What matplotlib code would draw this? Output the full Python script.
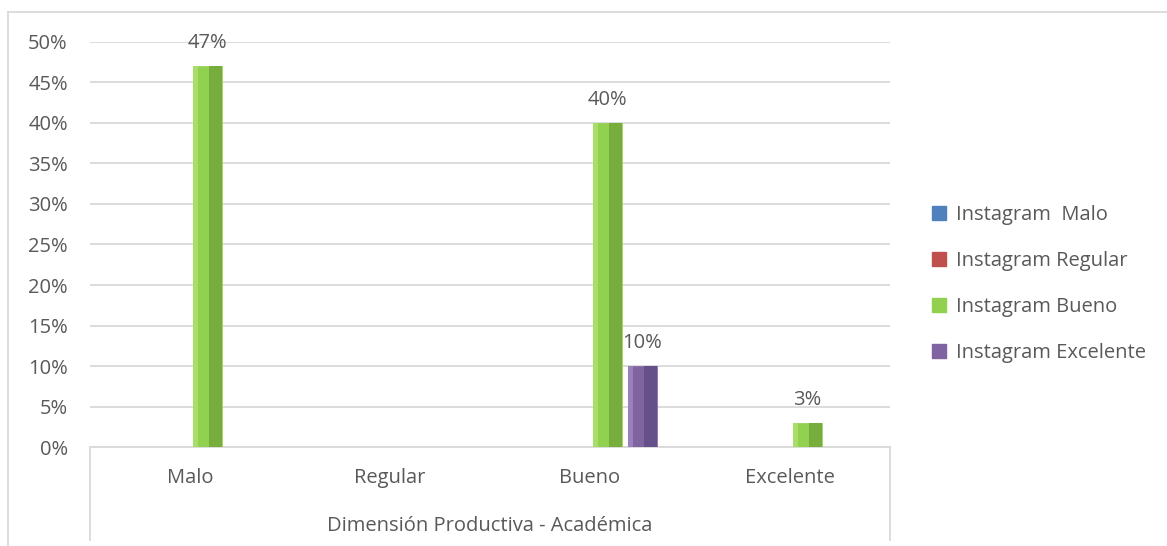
import numpy as np
import matplotlib.pyplot as plt
from matplotlib.patches import Rectangle
from matplotlib.lines import Line2D

plt.rcParams['font.family'] = ['Open Sans', 'DejaVu Sans']

categories = ['Malo', 'Regular', 'Bueno', 'Excelente']
series = ['Instagram  Malo', 'Instagram Regular', 'Instagram Bueno', 'Instagram Excelente']
malo = [0, 0, 0, 0]
regular = [0, 0, 0, 0]
bueno = [0.47, 0, 0.40, 0.03]
excelente = [0, 0, 0.10, 0]
group_label = 'Dimensión Productiva - Académica'

colors = ['#4F81BD', '#C0504D', '#92D050', '#8064A2']
darks = ['#3B6496', '#9A3C3A', '#76AD3C', '#65508A']
lights = ['#7FA6D6', '#D98381', '#A6DE68', '#9A80BC']
text_col = '#595959'
grid_col = '#D9D9D9'
fs = 14.5

fig = plt.figure(figsize=(11.67, 5.46), dpi=100)
ax = fig.add_axes([0.0771, 0.1813, 0.6855, 0.7418])

x = np.arange(len(categories))
offsets = [-0.2625, -0.0875, 0.0875, 0.2625]
w = 0.145
for vals, off, c, d, l, name in zip([malo, regular, bueno, excelente], offsets,
                                     colors, darks, lights, series):
    vals = np.array(vals, dtype=float)
    xs = x + off
    ax.bar(xs, vals, w, color=c, edgecolor=c, linewidth=0.5, label=name, zorder=3)
    m = vals > 0
    # bevel look: darker right part, lighter left edge
    ax.bar(xs[m] + w * 0.27, vals[m], w * 0.46, color=d, linewidth=0, zorder=4)
    ax.bar(xs[m] - w * 0.41, vals[m], w * 0.18, color=l, linewidth=0, zorder=4)
    for xi, v in zip(xs[m], vals[m]):
        ax.annotate('{:.0%}'.format(v), (xi, v), xytext=(0, 9.5),
                    textcoords='offset points', ha='center', va='bottom',
                    fontsize=fs, color=text_col)

ax.set_xlim(-0.5, len(categories) - 0.5)
ax.set_ylim(0, 0.5)
yt = np.arange(0, 0.51, 0.05)
ax.set_yticks(yt)
ax.set_yticklabels(['{:.0%}'.format(v) for v in yt], fontsize=fs, color=text_col)
ax.set_xticks(x)
ax.set_xticklabels(categories, fontsize=fs, color=text_col)
ax.tick_params(axis='y', length=0, pad=16)
ax.tick_params(axis='x', length=0, pad=15)
ax.grid(axis='y', color=grid_col, linewidth=1.3, zorder=0)
for s in ['top', 'right', 'left']:
    ax.spines[s].set_visible(False)
ax.spines['bottom'].set_color(grid_col)
ax.spines['bottom'].set_linewidth(1.3)

# two-level category axis
for xa in [0, 1]:
    ax.plot([xa, xa], [0, -0.23], transform=ax.transAxes, color=grid_col,
            linewidth=1.3, clip_on=False)
ax.text(0.5, -0.195, group_label, transform=ax.transAxes, ha='center',
        va='center', fontsize=fs, color=text_col)

# legend
handles = [Rectangle((0, 0), 1, 1, color=c) for c in colors]
ax.legend(handles, series, loc='center left', bbox_to_anchor=(0.7986, 0.479),
          bbox_transform=fig.transFigure, frameon=False, fontsize=fs,
          labelcolor=text_col, handlelength=0.7, handleheight=0.7,
          handletextpad=0.5, labelspacing=1.29, borderpad=0, borderaxespad=0)

# chart area frame
fig.add_artist(Line2D([0.0069, 1], [0.978, 0.978], color=grid_col, linewidth=1.3))
fig.add_artist(Line2D([0.0069, 0.0069], [0, 0.978], color=grid_col, linewidth=1.3))

fig.savefig('out.png', dpi=100)
